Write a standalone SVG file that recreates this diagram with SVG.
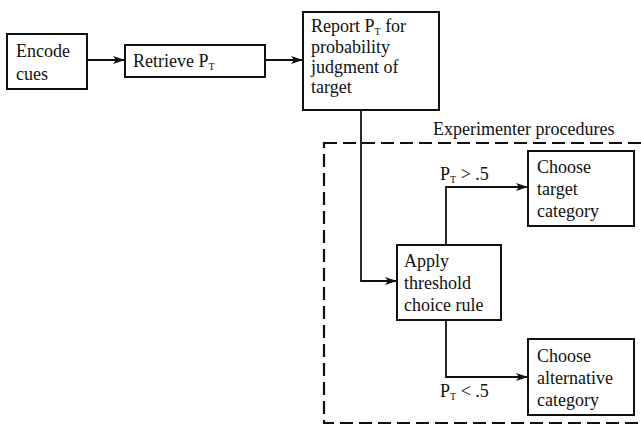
<svg xmlns="http://www.w3.org/2000/svg" width="641" height="426" viewBox="0 0 641 426">
<style>
.box{fill:#fff;stroke:#111;stroke-width:2}
.t{font-family:"Liberation Serif","Times New Roman",serif;font-size:18px;fill:#111}
.s{font-size:10px}
.ln{fill:none;stroke:#111;stroke-width:1.8}
.dash{fill:none;stroke:#111;stroke-width:2.2;stroke-dasharray:13 6}
</style>
<defs>
<marker id="ah" markerWidth="12" markerHeight="8" refX="11" refY="4" orient="auto" markerUnits="userSpaceOnUse">
<path d="M0,0 L12,4 L0,8 L3,4 Z" fill="#111"/>
</marker>
</defs>
<rect width="641" height="426" fill="#fff"/>
<g id="experimenter">
<rect class="dash" x="324" y="143" width="340" height="280"/>
<text class="t" x="433" y="135">Experimenter procedures</text>
</g>
<g id="connectors">
<line class="ln" x1="87" y1="60" x2="124" y2="60" marker-end="url(#ah)"/>
<line class="ln" x1="265" y1="60" x2="302" y2="60" marker-end="url(#ah)"/>
<polyline class="ln" points="361,110 361,281 396,281" marker-end="url(#ah)"/>
<polyline class="ln" points="446,245 446,187 527,187" marker-end="url(#ah)"/>
<polyline class="ln" points="446,320 446,377 527,377" marker-end="url(#ah)"/>
<text class="t" x="440" y="180">P<tspan class="s" dy="3">T</tspan><tspan dy="-3"> &gt; .5</tspan></text>
<text class="t" x="440" y="397">P<tspan class="s" dy="3">T</tspan><tspan dy="-3"> &lt; .5</tspan></text>
</g>
<g id="encode">
<rect class="box" x="7" y="34" width="80" height="55"/>
<text class="t" x="16" y="57">Encode</text>
<text class="t" x="16" y="80">cues</text>
</g>
<g id="retrieve">
<rect class="box" x="125" y="45" width="140" height="32"/>
<text class="t" x="133" y="67">Retrieve P<tspan class="s" dy="3">T</tspan></text>
</g>
<g id="report">
<rect class="box" x="303" y="12" width="136" height="98"/>
<text class="t" x="311" y="32">Report P<tspan class="s" dy="3">T</tspan><tspan dy="-3"> for</tspan></text>
<text class="t" x="311" y="53">probability</text>
<text class="t" x="311" y="73">judgment of</text>
<text class="t" x="311" y="93">target</text>
</g>
<g id="apply">
<rect class="box" x="397" y="245" width="104" height="75"/>
<text class="t" x="404" y="267">Apply</text>
<text class="t" x="404" y="289">threshold</text>
<text class="t" x="404" y="311">choice rule</text>
</g>
<g id="choose-target">
<rect class="box" x="528" y="151" width="106" height="75"/>
<text class="t" x="537" y="173">Choose</text>
<text class="t" x="537" y="195">target</text>
<text class="t" x="537" y="217">category</text>
</g>
<g id="choose-alternative">
<rect class="box" x="528" y="339" width="106" height="76"/>
<text class="t" x="537" y="362">Choose</text>
<text class="t" x="537" y="384">alternative</text>
<text class="t" x="537" y="406">category</text>
</g>
</svg>
